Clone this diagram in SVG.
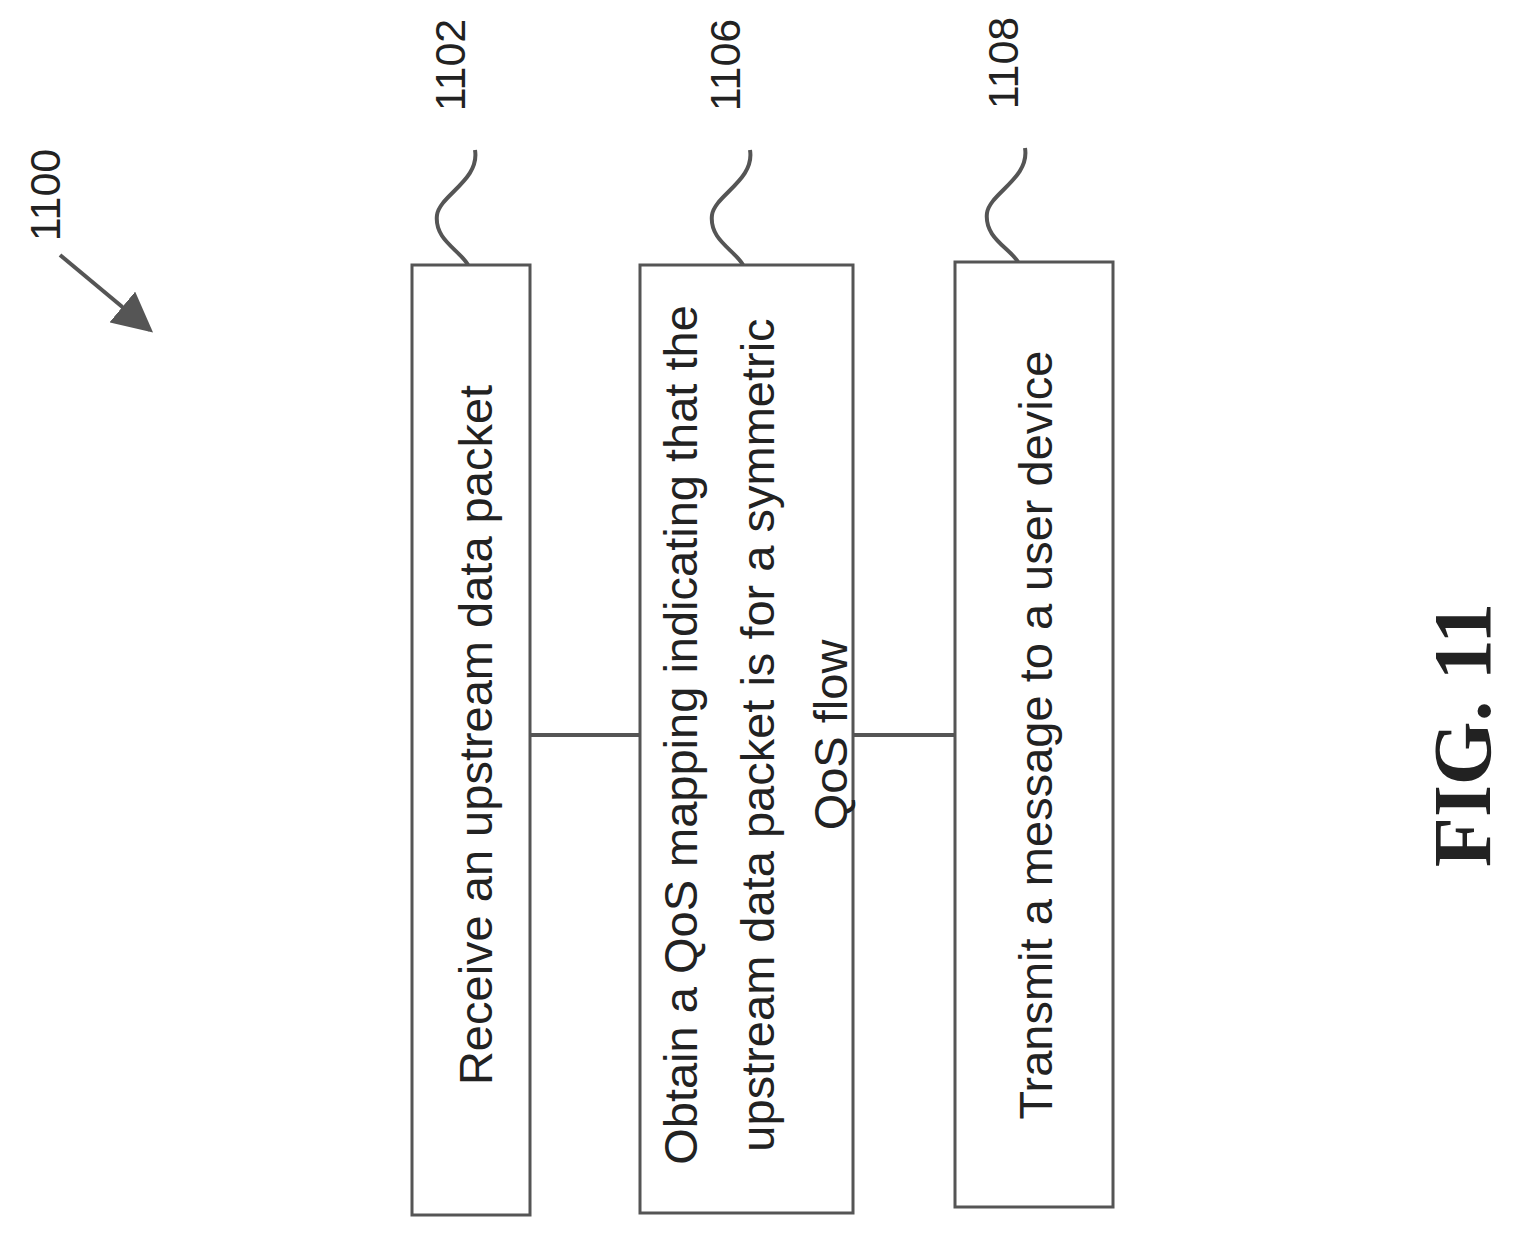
<svg xmlns="http://www.w3.org/2000/svg" width="1513" height="1235" viewBox="0 0 1513 1235">
<style>
.b{fill:#fff;stroke:#555;stroke-width:3}
.c{fill:none;stroke:#555;stroke-width:4}
.t{font-family:"Liberation Sans",Arial,sans-serif;font-size:47px;fill:#222;text-anchor:middle;dominant-baseline:central}
.l{font-family:"Liberation Sans",Arial,sans-serif;font-size:43px;fill:#222;text-anchor:middle;dominant-baseline:central}
.f{font-family:"Liberation Serif","Times New Roman",serif;font-weight:bold;font-size:82px;fill:#222;text-anchor:middle;dominant-baseline:central}
</style>
<defs>
<marker id="ah" viewBox="0 0 10 10" refX="9" refY="5" markerWidth="40" markerHeight="40" markerUnits="userSpaceOnUse" orient="auto"><path d="M0,0 L10,5 L0,10 z" fill="#555"/></marker></defs>
<g id="connectors">
<line class="c" x1="530" y1="735" x2="640" y2="735"/>
<line class="c" x1="853" y1="735" x2="955" y2="735"/>
<path class="c" d="M475,150 C480,180 440,195 437,215 C434,240 460,250 468,265"/>
<path class="c" d="M750,150 C755,180 715,195 712,215 C709,240 735,250 743,265"/>
<path class="c" d="M1025,148 C1030,178 990,193 987,213 C984,238 1010,248 1018,262"/>
<line class="c" x1="60" y1="255" x2="150" y2="330" stroke-width="6" marker-end="url(#ah)"/>
</g>
<g id="n1102"><rect class="b" x="412" y="265" width="118" height="950"/><text class="t" transform="translate(475,735) rotate(-90)">Receive an upstream data packet</text></g>
<g id="n1106"><rect class="b" x="640" y="265" width="213" height="948"/>
<text class="t" transform="translate(680,735) rotate(-90)">Obtain a QoS mapping indicating that the</text>
<text class="t" transform="translate(757,735) rotate(-90)">upstream data packet is for a symmetric</text>
<text class="t" transform="translate(830,735) rotate(-90)">QoS flow</text></g>
<g id="n1108"><rect class="b" x="955" y="262" width="158" height="945"/><text class="t" transform="translate(1035,735) rotate(-90)">Transmit a message to a user device</text></g>
<g id="labels">
<text class="l" transform="translate(45,195) rotate(-90)">1100</text>
<text class="l" transform="translate(450,65) rotate(-90)">1102</text>
<text class="l" transform="translate(725,65) rotate(-90)">1106</text>
<text class="l" transform="translate(1003,63) rotate(-90)">1108</text>
<text class="f" transform="translate(1462,735) rotate(-90)">FIG. 11</text>
</g>
</svg>
